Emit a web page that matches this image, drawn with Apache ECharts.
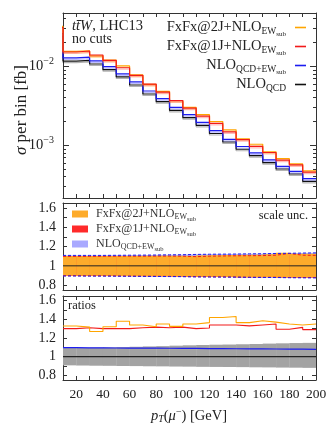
<!DOCTYPE html>
<html>
<head>
<meta charset="utf-8">
<script src="https://cdn.jsdelivr.net/npm/echarts@6/dist/echarts.min.js"></script>
<style>
html, body { margin: 0; padding: 0; background: #fff; }
#chartmain { width: 332px; height: 432px; }
</style>
</head>
<body>
<div id="chartmain"></div>
<script>
// bin left edges in GeV, bins are 10 GeV wide, the 0-10 bin sits left of the visible range
var binLo = [0, 10, 20, 30, 40, 50, 60, 70, 80, 90, 100, 110, 120, 130, 140, 150, 160, 170, 180, 190];
var binLoR = [10, 20, 30, 40, 50, 60, 70, 80, 90, 100, 110, 120, 130, 140, 150, 160, 170, 180, 190];
var xEnd = 200;

// sigma per bin [fb]
var fxfx2j = [0.032, 0.01548, 0.01567, 0.01358, 0.01199, 0.01012, 0.00777, 0.00589, 0.00482, 0.00367, 0.00302, 0.00244, 0.0020, 0.00157, 0.00121, 0.00103, 0.000827, 0.000676, 0.00058, 0.000473];
var fxfx1j = [0.031, 0.01517, 0.01561, 0.0139, 0.01186, 0.00958, 0.00768, 0.00595, 0.0047, 0.00368, 0.00296, 0.00234, 0.00189, 0.00148, 0.00118, 0.00097, 0.00081, 0.00065, 0.000566, 0.000457];
var nloEw = [0.026, 0.01277, 0.01303, 0.0117, 0.00993, 0.00801, 0.00634, 0.00487, 0.00389, 0.00302, 0.00244, 0.00195, 0.00153, 0.00119, 0.000965, 0.000803, 0.000654, 0.000542, 0.000468, 0.000378];
var nloQcd = [0.024, 0.01166, 0.0119, 0.01069, 0.00908, 0.00733, 0.0058, 0.00446, 0.00357, 0.00277, 0.00224, 0.00179, 0.00141, 0.0011, 0.00089, 0.000741, 0.000604, 0.000501, 0.000433, 0.00035];

// scale uncertainty bands (relative to own central value)
var unc2jUp = [1.100, 1.100, 1.100, 1.101, 1.102, 1.103, 1.104, 1.105, 1.104, 1.103, 1.108, 1.110, 1.112, 1.114, 1.115, 1.120, 1.135, 1.125, 1.125];
var unc2jDn = [0.898, 0.897, 0.897, 0.896, 0.895, 0.894, 0.893, 0.892, 0.890, 0.888, 0.887, 0.886, 0.885, 0.882, 0.882, 0.883, 0.880, 0.880, 0.880];
var unc1jUp = [1.098, 1.098, 1.099, 1.100, 1.100, 1.100, 1.101, 1.101, 1.100, 1.095, 1.100, 1.102, 1.104, 1.105, 1.106, 1.110, 1.128, 1.110, 1.108];
var unc1jDn = [0.897, 0.896, 0.896, 0.895, 0.894, 0.893, 0.892, 0.891, 0.889, 0.887, 0.886, 0.885, 0.884, 0.881, 0.881, 0.882, 0.879, 0.879, 0.879];
var uncEwUp = [1.108, 1.108, 1.108, 1.109, 1.110, 1.111, 1.112, 1.114, 1.115, 1.118, 1.120, 1.121, 1.122, 1.124, 1.125, 1.128, 1.130, 1.132, 1.134];
var uncEwDn = [0.895, 0.894, 0.894, 0.893, 0.892, 0.891, 0.890, 0.889, 0.888, 0.886, 0.885, 0.884, 0.883, 0.881, 0.880, 0.879, 0.877, 0.876, 0.875];

// ratios to NLO_QCD
var ratio2j = [1.328, 1.317, 1.27, 1.32, 1.38, 1.34, 1.32, 1.35, 1.325, 1.35, 1.365, 1.42, 1.43, 1.365, 1.385, 1.37, 1.35, 1.34, 1.35];
var ratio1j = [1.30, 1.31, 1.30, 1.30, 1.30, 1.31, 1.317, 1.31, 1.317, 1.30, 1.307, 1.34, 1.34, 1.33, 1.34, 1.35, 1.293, 1.314, 1.29];
var ratioEw = [1.096, 1.095, 1.094, 1.093, 1.092, 1.092, 1.091, 1.090, 1.089, 1.088, 1.087, 1.086, 1.085, 1.084, 1.083, 1.082, 1.081, 1.080, 1.079];
var qcdUp = [1.093, 1.095, 1.098, 1.100, 1.103, 1.106, 1.110, 1.113, 1.118, 1.122, 1.125, 1.128, 1.130, 1.133, 1.136, 1.140, 1.143, 1.146, 1.148];
var qcdDn = [0.907, 0.905, 0.903, 0.902, 0.900, 0.899, 0.897, 0.896, 0.894, 0.893, 0.891, 0.890, 0.889, 0.888, 0.886, 0.885, 0.883, 0.882, 0.880];

// tick values
var logMajor = [0.001, 0.01];
var logMinor = [0.0003, 0.0004, 0.0005, 0.0006, 0.0007, 0.0008, 0.0009, 0.002, 0.003, 0.004, 0.005, 0.006, 0.007, 0.008, 0.009, 0.02, 0.03, 0.04];
var ratioLabels = [0.8, 1, 1.2, 1.4, 1.6];
var ratioTicks = [0.8, 0.9, 1, 1.1, 1.2, 1.3, 1.4, 1.5, 1.6];

var serif = 'Liberation Serif';
var ink = '#333';
var cOrange = '#ffa500', cRed = '#f21a1a', cBlue = '#1c1cf0', cBlack = '#111';

function histo(lo, vals) {
	var d = [];
	for (var i = 0; i < vals.length; i++) {
		d.push([lo[i], vals[i]]);
	}
	d.push([xEnd, vals[vals.length - 1]]);
	return d;
}

function xAx(grid, top, labels) {
	return {
		type : 'value', gridIndex : grid, position : top ? 'top' : 'bottom',
		min : 10, max : 200, interval : 10,
		axisLine : { show : true, onZero : false, lineStyle : { color : ink, width : 1 } },
		axisTick : { show : true, inside : true, length : 4, lineStyle : { color : ink } },
		axisLabel : {
			show : !!labels, margin : 7, fontFamily : serif, fontSize : 13.5, color : '#222',
			formatter : function(v) { return v % 20 === 0 ? String(v) : ''; }
		},
		splitLine : { show : false }
	};
}
function yLog(right, minor) {
	return {
		type : 'log', gridIndex : 0, position : right ? 'right' : 'left',
		min : 0.000215, max : 0.0473,
		axisLine : { show : !minor, lineStyle : { color : ink, width : 1 } },
		axisTick : { show : true, inside : true, length : minor ? 3 : 6, customValues : minor ? logMinor : logMajor, lineStyle : { color : ink } },
		axisLabel : {
			show : !right && !minor, margin : 9, customValues : logMajor,
			formatter : function(v) { return '{b|10}{sup|' + (v < 0.005 ? '\u22123' : '\u22122') + '}'; },
			rich : {
				b : { fontFamily : serif, fontSize : 14.5, color : '#222' },
				sup : { fontFamily : serif, fontSize : 10, color : '#222', padding : [0, 0, 9, 0] }
			}
		},
		splitLine : { show : false }
	};
}
function yRat(grid, right) {
	return {
		type : 'value', gridIndex : grid, position : right ? 'right' : 'left',
		min : 0.75, max : 1.65,
		axisLine : { show : true, lineStyle : { color : ink, width : 1 } },
		axisTick : { show : true, inside : true, length : 4, customValues : ratioTicks, lineStyle : { color : ink } },
		axisLabel : {
			show : !right, margin : 7, customValues : ratioLabels, fontFamily : serif, fontSize : 14, color : '#222',
			formatter : function(v) { return Math.abs(v - 1) < 1e-6 ? '1' : v.toFixed(1); }
		},
		splitLine : { show : false }
	};
}

function line(name, xi, yi, data, color, width, shade, dashed) {
	return {
		name : name, type : 'line', xAxisIndex : xi, yAxisIndex : yi, step : 'end',
		data : data, showSymbol : false, symbol : 'none', color : color, silent : true,
		lineStyle : {
			color : color, width : width, type : dashed ? [3, 2] : 'solid',
			shadowColor : shade || 'rgba(0,0,0,0)', shadowOffsetY : shade ? 1.5 : 0, shadowBlur : 0
		}
	};
}
// one rectangle per bin, from the lower to the upper edge of the band
function band(name, xi, yi, lo, hi, fill) {
	var d = [];
	for (var i = 0; i < lo.length; i++) {
		d.push([binLoR[i], i + 1 < binLoR.length ? binLoR[i + 1] : xEnd, lo[i], hi[i]]);
	}
	return {
		name : name, type : 'custom', xAxisIndex : xi, yAxisIndex : yi, data : d, silent : true,
		itemStyle : { color : fill }, clip : true,
		encode : { x : [0, 1], y : [2, 3] },
		renderItem : function(params, api) {
			var a = api.coord([api.value(0), api.value(3)]);
			var b = api.coord([api.value(1), api.value(2)]);
			return { type : 'rect', shape : { x : a[0], y : a[1], width : b[0] - a[0] + 0.3, height : b[1] - a[1] },
				style : { fill : fill } };
		}
	};
}

var legendRich = {
	m : { fontFamily : serif, fontSize : 14.5, color : '#222', lineHeight : 20 },
	s : { fontFamily : serif, fontSize : 9.5, color : '#222', padding : [7, 0, 0, 0] },
	ss : { fontFamily : serif, fontSize : 7, color : '#222', padding : [13, 0, 0, 0] }
};
var bandRich = {
	m : { fontFamily : serif, fontSize : 12, color : '#333', lineHeight : 15 },
	s : { fontFamily : serif, fontSize : 8, color : '#333', padding : [6, 0, 0, 0] },
	ss : { fontFamily : serif, fontSize : 6.5, color : '#333', padding : [11, 0, 0, 0] }
};
var labelText = {
	'FxFx@2J' : '{m|FxFx@2J+NLO}{s|EW}{ss|sub}',
	'FxFx@1J' : '{m|FxFx@1J+NLO}{s|EW}{ss|sub}',
	'NLO EW' : '{m|NLO}{s|QCD+EW}{ss|sub}',
	'NLO QCD' : '{m|NLO}{s|QCD}',
	'2J band' : '{m|FxFx@2J+NLO}{s|EW}{ss|sub}',
	'1J band' : '{m|FxFx@1J+NLO}{s|EW}{ss|sub}',
	'EW band' : '{m|NLO}{s|QCD+EW}{ss|sub}'
};

var series = [];
// top panel
series.push(line('NLO QCD', 0, 0, histo(binLo, nloQcd), cBlack, 1.2, 'rgba(0,0,0,0.3)'));
series.push(line('NLO EW', 0, 0, histo(binLo, nloEw), cBlue, 1.2, 'rgba(40,40,255,0.3)'));
series.push(line('FxFx@2J', 0, 0, histo(binLo, fxfx2j), cOrange, 1.2, 'rgba(255,165,0,0.35)'));
series.push(line('FxFx@1J', 0, 0, histo(binLo, fxfx1j), cRed, 1.2, 'rgba(255,30,30,0.3)'));
// middle panel, scale uncertainty
series.push(band('EW band', 2, 4, uncEwDn, uncEwUp, '#a9a9ff'));
series.push(band('1J band', 2, 4, unc1jDn, unc1jUp, '#ff2a2a'));
series.push(band('2J band', 2, 4, unc2jDn, unc2jUp, '#fdab2b'));
series.push(line('r1 up', 2, 4, histo(binLoR, unc1jUp), cRed, 1, null, true));
series.push(line('r1 dn', 2, 4, histo(binLoR, unc1jDn), cRed, 1, null, true));
series.push(line('ew up', 2, 4, histo(binLoR, uncEwUp), cBlue, 1, null, true));
series.push(line('ew dn', 2, 4, histo(binLoR, uncEwDn), cBlue, 1, null, true));
series.push(line('one m', 2, 4, [[10, 1], [200, 1]], '#222', 1));
// bottom panel, ratios
series.push(band('QCD band', 4, 6, qcdDn, qcdUp, '#a3a3a3'));
series.push(line('one r', 4, 6, [[10, 1], [200, 1]], '#222', 1.1));
series.push(line('ew r', 4, 6, histo(binLoR, ratioEw), cBlue, 1.2));
series.push(line('1j r', 4, 6, histo(binLoR, ratio1j), cRed, 1.1));
series.push(line('2j r', 4, 6, histo(binLoR, ratio2j), cOrange, 1.1));

var option = {
	animation : false,
	backgroundColor : '#fff',
	grid : [
		{ left : 63, top : 13, width : 253, height : 185 },
		{ left : 63, top : 203, width : 253, height : 87 },
		{ left : 63, top : 296, width : 253, height : 84 }
	],
	xAxis : [ xAx(0, false), xAx(0, true), xAx(1, false), xAx(1, true), xAx(2, false, true), xAx(2, true) ],
	yAxis : [ yLog(false, false), yLog(false, true), yLog(true, false), yLog(true, true),
		yRat(1, false), yRat(1, true), yRat(2, false), yRat(2, true) ],
	legend : [{
		data : ['FxFx@2J', 'FxFx@1J', 'NLO EW', 'NLO QCD'],
		orient : 'vertical', align : 'right', right : 26, top : 20, itemGap : 1.5, padding : 0,
		itemWidth : 11, itemHeight : 1.6, icon : 'rect', selectedMode : false,
		itemStyle : { borderWidth : 0 },
		textStyle : { rich : legendRich, padding : [0, 4, 0, 0] },
		formatter : function(n) { return labelText[n]; }
	}, {
		data : ['2J band', '1J band', 'EW band'],
		orient : 'vertical', align : 'left', left : 72, top : 208, itemGap : 0, padding : 0,
		itemWidth : 16, itemHeight : 7, icon : 'rect', selectedMode : false,
		itemStyle : { borderWidth : 0 },
		textStyle : { rich : bandRich, padding : [0, 0, 0, 3] },
		formatter : function(n) { return labelText[n]; }
	}],
	graphic : [
		{ type : 'text', left : 72, top : 19, z : 100, style : {
			text : '{i|tt\u0304W}{r|, LHC13}',
			rich : { i : { fontFamily : serif, fontStyle : 'italic', fontSize : 14.5, fill : '#222' },
				r : { fontFamily : serif, fontSize : 14.5, fill : '#222' } } } },
		{ type : 'text', left : 72, top : 32, z : 100, style : { text : 'no cuts', font : '14px "Liberation Serif"', fill : '#222' } },
		{ type : 'text', right : 24, top : 209, z : 100, style : { text : 'scale unc.', font : '12.5px "Liberation Serif"', fill : '#222' } },
		{ type : 'text', left : 68, top : 299, z : 100, style : { text : 'ratios', font : '12.5px "Liberation Serif"', fill : '#222' } },
		{ type : 'text', x : 22, y : 110, rotation : Math.PI / 2, z : 100, style : {
			text : '{i|\u03c3}{r| per bin [fb]}', align : 'center', verticalAlign : 'middle',
			rich : { i : { fontFamily : serif, fontStyle : 'italic', fontSize : 17, fill : '#222' },
				r : { fontFamily : serif, fontSize : 17, fill : '#222' } } } },
		{ type : 'text', x : 189, y : 416, z : 100, style : {
			text : '{i|p}{s|T}{r|(}{i|\u03bc}{sup|\u2212}{r|) [GeV]}', align : 'center', verticalAlign : 'middle',
			rich : { i : { fontFamily : serif, fontStyle : 'italic', fontSize : 14.5, fill : '#222' },
				r : { fontFamily : serif, fontSize : 14.5, fill : '#222' },
				s : { fontFamily : serif, fontStyle : 'italic', fontSize : 10, fill : '#222', padding : [7, 0, 0, 0] },
				sup : { fontFamily : serif, fontSize : 10, fill : '#222', padding : [0, 0, 8, 0] } } } }
	],
	series : series
};

// 初始化echarts实例
var myChart = echarts.init(document.getElementById('chartmain'));
myChart.setOption(option);
</script>
</body>
</html>
